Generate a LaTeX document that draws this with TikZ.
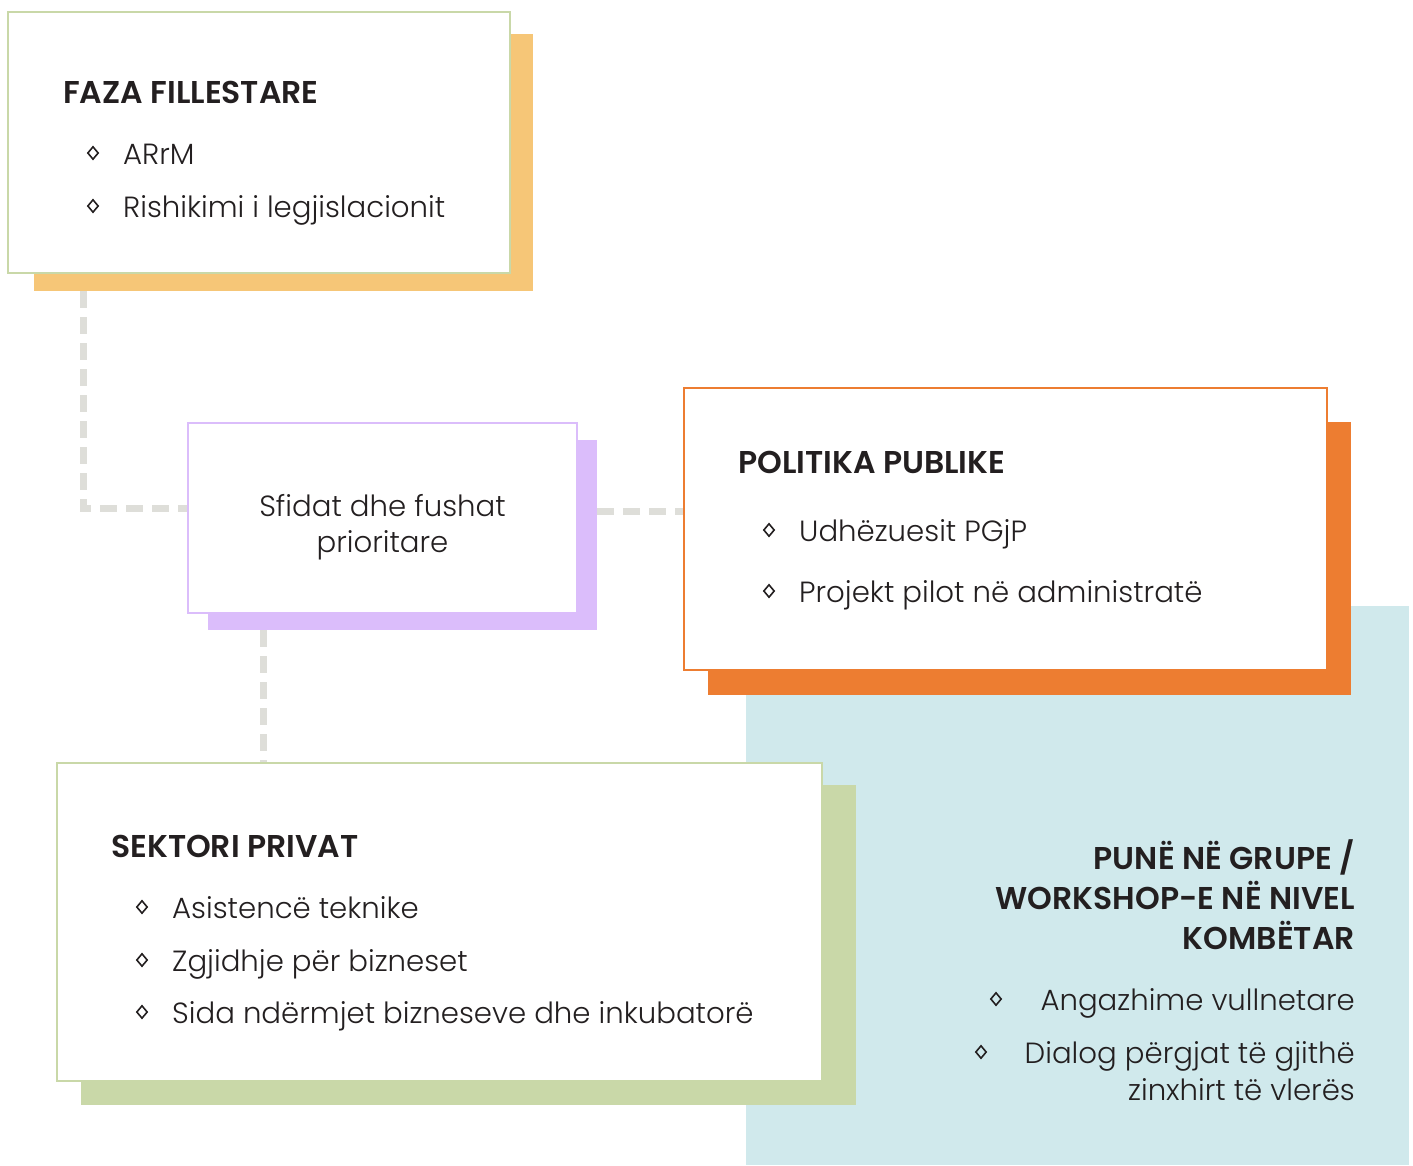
\documentclass[tikz,border=0pt]{standalone}
\usepackage{fontspec}
\setmainfont{Poppins}[UprightFont=* Light,BoldFont=* SemiBold]
\usetikzlibrary{shapes.geometric}

\definecolor{ink}{HTML}{231F20}
\definecolor{sage}{HTML}{C9D8A8}
\definecolor{sand}{HTML}{F6C677}
\definecolor{lilac}{HTML}{DBBDFB}
\definecolor{rust}{HTML}{ED7D31}
\definecolor{mist}{HTML}{D0E9EC}
\definecolor{dashgray}{HTML}{DEDED9}

\begin{document}
\begin{tikzpicture}[x=1pt,y=-1pt,
  frame/.style={draw,fill=white,line width=2.5pt,inner sep=0pt},
  shade/.style={inner sep=0pt},
  link/.style={dashgray,line width=7pt,dash pattern=on 17pt off 9pt},
  head/.style={anchor=base west,inner sep=0pt,text=ink,font=\fontsize{31.5}{37}\selectfont\bfseries},
  item/.style={anchor=base west,inner sep=0pt,text=ink,font=\fontsize{29.2}{36}\selectfont},
  bul/.style={diamond,draw=ink,line width=1.6pt,minimum width=11pt,minimum height=13pt,inner sep=0pt}]

\useasboundingbox (0,0) rectangle (1413,1165);

%draws background panel
\fill[mist] (746,606) rectangle (1409,1165);

%draws shadows
\node[shade,fill=sand,minimum width=499pt,minimum height=257pt] (fazash) at (283.5,162.5) {};
\node[shade,fill=lilac,minimum width=389pt,minimum height=190pt] (sfidatsh) at (402.5,535) {};
\node[shade,fill=rust,minimum width=643pt,minimum height=273pt] (politikash) at (1029.5,558.5) {};
\node[shade,fill=sage,minimum width=775pt,minimum height=320pt] (sektorish) at (468.5,945) {};

%draws boxes
\node[frame,draw=sage,minimum width=502pt,minimum height=261pt] (faza) at (259,142.5) {};
\node[frame,draw=lilac,minimum width=389pt,minimum height=190pt] (sfidat) at (382.5,518) {};
\node[frame,draw=rust,minimum width=643pt,minimum height=282pt] (politika) at (1005.5,529) {};
\node[frame,draw=sage,minimum width=765pt,minimum height=318pt] (sektori) at (439.5,922) {};

%draws dashed links
\coordinate (elbow) at (83,508);
\coordinate (bridge) at (0,511);
\coordinate (drop) at (263,0);
\draw[link] (fazash.south -| elbow) -- (elbow) -- (sfidat.west |- elbow);
\draw[link] (sfidatsh.east |- bridge) -- (politika.west |- bridge);
\draw[link] (sfidatsh.south -| drop) -- (sektori.north -| drop);

%text of faza
\node[head] (fazat) at (63,103) {FAZA FILLESTARE};
\node[bul] (fb1) at (93,153) {};
\node[item] (fi1) at (123,164) {ARrM};
\node[bul] (fb2) at (93,206) {};
\node[item] (fi2) at (123,217) {Rishikimi i legjislacionit};

%text of sfidat
\node[item,anchor=base] (st1) at (382.5,516) {Sfidat dhe fushat};
\node[item,anchor=base] (st2) at (382.5,552) {prioritare};

%text of politika
\node[head] (polt) at (738,473) {POLITIKA PUBLIKE};
\node[bul] (pb1) at (769,530) {};
\node[item] (pi1) at (799,541) {Udhëzuesit PGjP};
\node[bul] (pb2) at (769,591) {};
\node[item] (pi2) at (799,602) {Projekt pilot në administratë};

%text of sektori
\node[head] (sekt) at (111,857) {SEKTORI PRIVAT};
\node[bul] (sb1) at (142,907) {};
\node[item] (si1) at (172,918) {Asistencë teknike};
\node[bul] (sb2) at (142,960) {};
\node[item] (si2) at (172,971) {Zgjidhje për bizneset};
\node[bul] (sb3) at (142,1012) {};
\node[item] (si3) at (172,1023) {Sida ndërmjet bizneseve dhe inkubatorë};

%text of panel
\node[head,anchor=base east] (pun1) at (1355,869) {PUNË NË GRUPE /};
\node[head,anchor=base east] (pun2) at (1355,909) {WORKSHOP-E NË NIVEL};
\node[head,anchor=base east] (pun3) at (1355,949) {KOMBËTAR};
\node[bul] (kb1) at (996,999) {};
\node[item,anchor=base east] (ki1) at (1355,1010) {Angazhime vullnetare};
\node[bul] (kb2) at (981,1052) {};
\node[item,anchor=base east] (ki2) at (1355,1063) {Dialog përgjat të gjithë};
\node[item,anchor=base east] (ki3) at (1355,1100) {zinxhirt të vlerës};
\end{tikzpicture}
\end{document}
